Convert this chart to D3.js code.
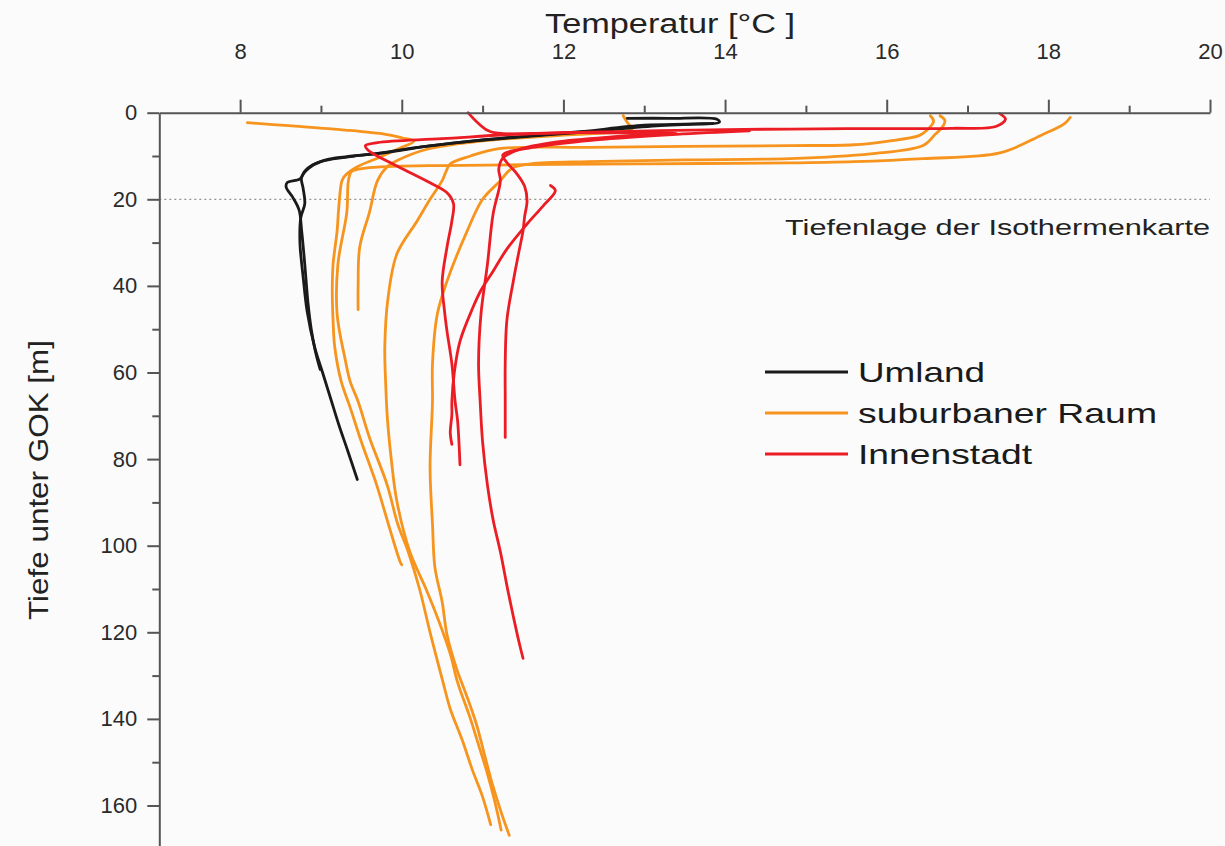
<!DOCTYPE html>
<html>
<head>
<meta charset="utf-8">
<script src="https://cdn.jsdelivr.net/npm/d3@7"></script>
<style>
  body { margin: 0; background: #fbfbfb; }
  svg { font-family: Arial, "Liberation Sans", sans-serif; }
</style>
</head>
<body>
<svg id="chart" width="1225" height="846"></svg>
<script>
// Temperatur-Tiefenprofile, [Temperatur °C, Tiefe m]
const umland = [
  [[12.79,1.3],[13.3,1.3],[13.9,1.5],[13.93,2.2],[13.6,2.6],[13.0,2.9],[12.2,4.4],[11.6,5.3],[11.0,6.3],[10.3,7.8],
   [9.8,9.2],[9.4,10.0],[9.1,10.7],[8.9,12.0],[8.8,13.5],[8.74,15.3],[8.58,16.2],[8.57,17.2],[8.65,19.5],[8.73,22.5],
   [8.76,27],[8.8,35],[8.84,44],[8.88,50],[8.93,55],[8.99,59.3]],
  [[13.85,2.5],[13.2,3.0],[12.3,4.4],[11.6,5.4],[10.9,6.5],[10.2,8.0],[9.7,9.4],[9.3,10.3],[9.0,11.3],[8.85,12.8],
   [8.76,15.0],[8.78,17.5],[8.8,21],[8.75,24.3],[8.74,30],[8.78,38],[8.83,46],[8.92,54],[9.02,60],[9.12,66],
   [9.22,72],[9.33,78],[9.45,84.7]]
];

const suburban = [
  [[8.09,2.3],[8.6,3.0],[9.3,4.0],[9.8,5.0],[10.0,5.8],[10.15,6.6],[10.0,8.0],[9.7,10.5],[9.45,12.5],[9.3,14.5],
   [9.26,15.7],[9.22,22],[9.2,27.3],[9.15,35],[9.14,41],[9.15,48],[9.17,54],[9.25,62],[9.36,68],[9.5,76],
   [9.69,86],[9.85,96],[9.98,103.7],[10.0,104.4]],
  [[12.74,0.7],[12.8,2.5],[12.85,3.7],[12.0,5.2],[11.0,6.5],[10.3,8.5],[9.95,11.0],[9.82,12.5],[9.7,15.7],
   [9.6,23],[9.48,31],[9.46,40],[9.46,45.5]],
  [[16.54,0.7],[16.58,2.0],[16.5,4.0],[16.4,5.3],[16.0,6.6],[15.6,7.4],[14.8,7.6],[13.5,7.8],[12.3,8.0],[11.2,8.3],
   [10.85,10.0],[10.6,11.8],[10.55,13.5],[10.5,15.7],[10.35,20],[10.19,25],[9.94,32.6],[9.83,42.8],[9.79,54],
   [9.8,62],[9.82,70],[9.87,80],[9.94,89.8],[10.1,101.4],[10.3,110],[10.45,117],[10.6,125],[10.69,131.5],
   [10.85,140],[10.95,146],[11.05,152],[11.15,159],[11.23,165.7]],
  [[16.66,0.7],[16.72,1.8],[16.7,3.0],[16.6,5.0],[16.45,7.6],[15.8,9.5],[14.8,10.6],[13.5,10.9],[12.3,11.3],
   [11.6,11.8],[11.4,12.5],[11.32,13.5],[11.22,15.7],[11.0,20],[10.81,27.3],[10.56,38.9],[10.44,46.5],[10.38,58],
   [10.38,66.7],[10.35,82],[10.38,95],[10.41,105],[10.5,113],[10.56,120.6],[10.68,128.5],[10.79,134],[10.92,141],
   [11.02,148],[11.12,155],[11.22,161],[11.33,166.9]],
  [[18.27,1.1],[18.2,2.5],[17.9,5.3],[17.4,9.3],[16.45,10.6],[15.6,11.3],[14.8,11.6],[13.0,11.8],[11.5,12.0],
   [10.5,12.2],[9.9,12.4],[9.55,12.8],[9.38,13.6],[9.34,15.7],[9.32,23],[9.21,35],[9.2,46.5],[9.3,57],[9.36,62],
   [9.46,66.7],[9.6,75],[9.82,86],[9.95,95],[10.08,101.4],[10.22,110],[10.35,120],[10.51,131.5],[10.6,137.7],
   [10.75,145],[10.87,151.6],[11.0,158],[11.1,164.4]]
];

const innenstadt = [
  [[17.4,0.2],[17.47,1.5],[17.35,3.2],[16.8,3.6],[15.5,3.7],[14.0,3.9],[12.8,4.3],[11.6,4.8],[10.5,6.0],[9.7,6.9],
   [9.55,7.6],[9.58,8.6],[9.94,12.3],[10.35,16.2],[10.56,18.5],[10.64,21],[10.62,25],[10.56,31],[10.5,39],
   [10.53,46],[10.56,50.5],[10.62,58],[10.66,66.7],[10.69,71],[10.71,77],[10.72,81.3]],
  [[11.84,16.8],[11.9,18],[11.75,21.5],[11.55,25.7],[11.3,31.5],[11.13,36.6],[10.98,41],[10.88,45],[10.72,52.8],
   [10.65,60],[10.62,66.7],[10.62,69.7],[10.6,74],[10.62,76.6]],
  [[10.82,0],[10.95,2.5],[11.1,4.4],[12.2,4.6],[13.4,4.8],[12.6,5.6],[11.9,6.8],[11.45,8.5],[11.25,10.5],[11.2,13],
   [11.22,15.7],[11.13,23.4],[11.06,35],[10.98,46.5],[10.95,58],[10.97,66.7],[11.0,76],[11.06,86],[11.13,94],
   [11.22,101.4],[11.32,111],[11.43,120.6],[11.46,123],[11.5,126]],
  [[14.3,4.2],[13.4,5.0],[12.4,6.3],[11.7,7.8],[11.25,9.8],[11.3,11.5],[11.42,14],[11.52,17],[11.55,20.4],
   [11.52,24],[11.5,27.3],[11.44,33],[11.38,38.9],[11.3,48],[11.28,58],[11.28,66],[11.28,71],[11.28,75]]
];

const xMajor = [8, 10, 12, 14, 16, 18, 20];
const xMinor = [9, 11, 13, 15, 17, 19];
const yMajor = [0, 20, 40, 60, 80, 100, 120, 140, 160];
const yMinor = [10, 30, 50, 70, 90, 110, 130, 150];
const isoDepth = 20;

const groups = [
  {name: 'Umland', color: '#1a1a1a', data: umland},
  {name: 'suburbaner Raum', color: '#f7941d', data: suburban},
  {name: 'Innenstadt', color: '#ec1c24', data: innenstadt}
];

const svg = d3.select('#chart');
const x = d3.scaleLinear().domain([7, 20]).range([159.3, 1210]);
const y = d3.scaleLinear().domain([0, 170]).range([112.7, 848.8]);

// Isothermen-Tiefe
svg.append('line')
  .attr('x1', x(7)).attr('x2', x(20))
  .attr('y1', y(isoDepth)).attr('y2', y(isoDepth))
  .attr('stroke', '#7a7a7a').attr('stroke-width', 1)
  .attr('stroke-dasharray', '2,3');

svg.append('text')
  .attr('x', x(20)).attr('y', y(isoDepth) + 36)
  .attr('text-anchor', 'end')
  .attr('font-size', 22).attr('fill', '#222')
  .attr('textLength', 425).attr('lengthAdjust', 'spacingAndGlyphs')
  .text('Tiefenlage der Isothermenkarte');

// Profile
const line = d3.line()
  .curve(d3.curveCatmullRom.alpha(0.5))
  .x(d => x(d[0])).y(d => y(d[1]));
const order = [groups[1], groups[0], groups[2]];
order.forEach(g => {
  svg.append('g').selectAll('path')
    .data(g.data)
    .enter().append('path')
    .attr('d', line)
    .attr('fill', 'none')
    .attr('stroke', g.color)
    .attr('stroke-width', 2.8)
    .attr('stroke-linejoin', 'round')
    .attr('stroke-linecap', 'round');
});

// Achsen
const axisCol = '#555';
svg.append('g').attr('transform', `translate(0,${y(0)})`)
  .call(d3.axisTop(x).tickValues(xMajor).tickSize(13).tickSizeOuter(0).tickPadding(41));
svg.append('g').attr('transform', `translate(0,${y(0)})`)
  .call(d3.axisTop(x).tickValues(xMinor).tickSize(7).tickFormat(''))
  .select('.domain').remove();

svg.append('g').attr('transform', `translate(${x(7)},0)`)
  .call(d3.axisLeft(y).tickValues(yMajor).tickSize(12).tickSizeOuter(0).tickPadding(10));
svg.append('g').attr('transform', `translate(${x(7)},0)`)
  .call(d3.axisLeft(y).tickValues(yMinor).tickSize(7).tickFormat(''))
  .select('.domain').remove();

svg.selectAll('.domain').attr('stroke', axisCol).attr('stroke-width', 2);
svg.selectAll('.tick line').attr('stroke', axisCol).attr('stroke-width', 2);
svg.selectAll('.tick text').attr('font-size', 22).attr('fill', '#2a2a2a')
  .attr('font-family', 'Arial, "Liberation Sans", sans-serif');

// Titel
svg.append('text')
  .attr('x', 545).attr('y', 33)
  .attr('font-size', 27).attr('fill', '#222')
  .attr('textLength', 250).attr('lengthAdjust', 'spacingAndGlyphs')
  .text('Temperatur [°C ]');

svg.append('text')
  .attr('transform', `translate(48,480) rotate(-90)`)
  .attr('text-anchor', 'middle')
  .attr('font-size', 28).attr('fill', '#222')
  .attr('textLength', 280).attr('lengthAdjust', 'spacingAndGlyphs')
  .text('Tiefe unter GOK [m]');

// Legende
const legend = svg.append('g').attr('transform', 'translate(765,372)');
const item = legend.selectAll('g').data(groups).enter().append('g')
  .attr('transform', (d, i) => `translate(0,${i * 41})`);
item.append('line').attr('x1', 0).attr('x2', 83)
  .attr('stroke', d => d.color).attr('stroke-width', 3);
const legW = [127, 299, 174];
item.append('text').attr('x', 93).attr('y', 10)
  .attr('font-size', 28).attr('fill', '#1a1a1a')
  .attr('textLength', (d, i) => legW[i]).attr('lengthAdjust', 'spacingAndGlyphs')
  .text(d => d.name);
</script>
</body>
</html>
